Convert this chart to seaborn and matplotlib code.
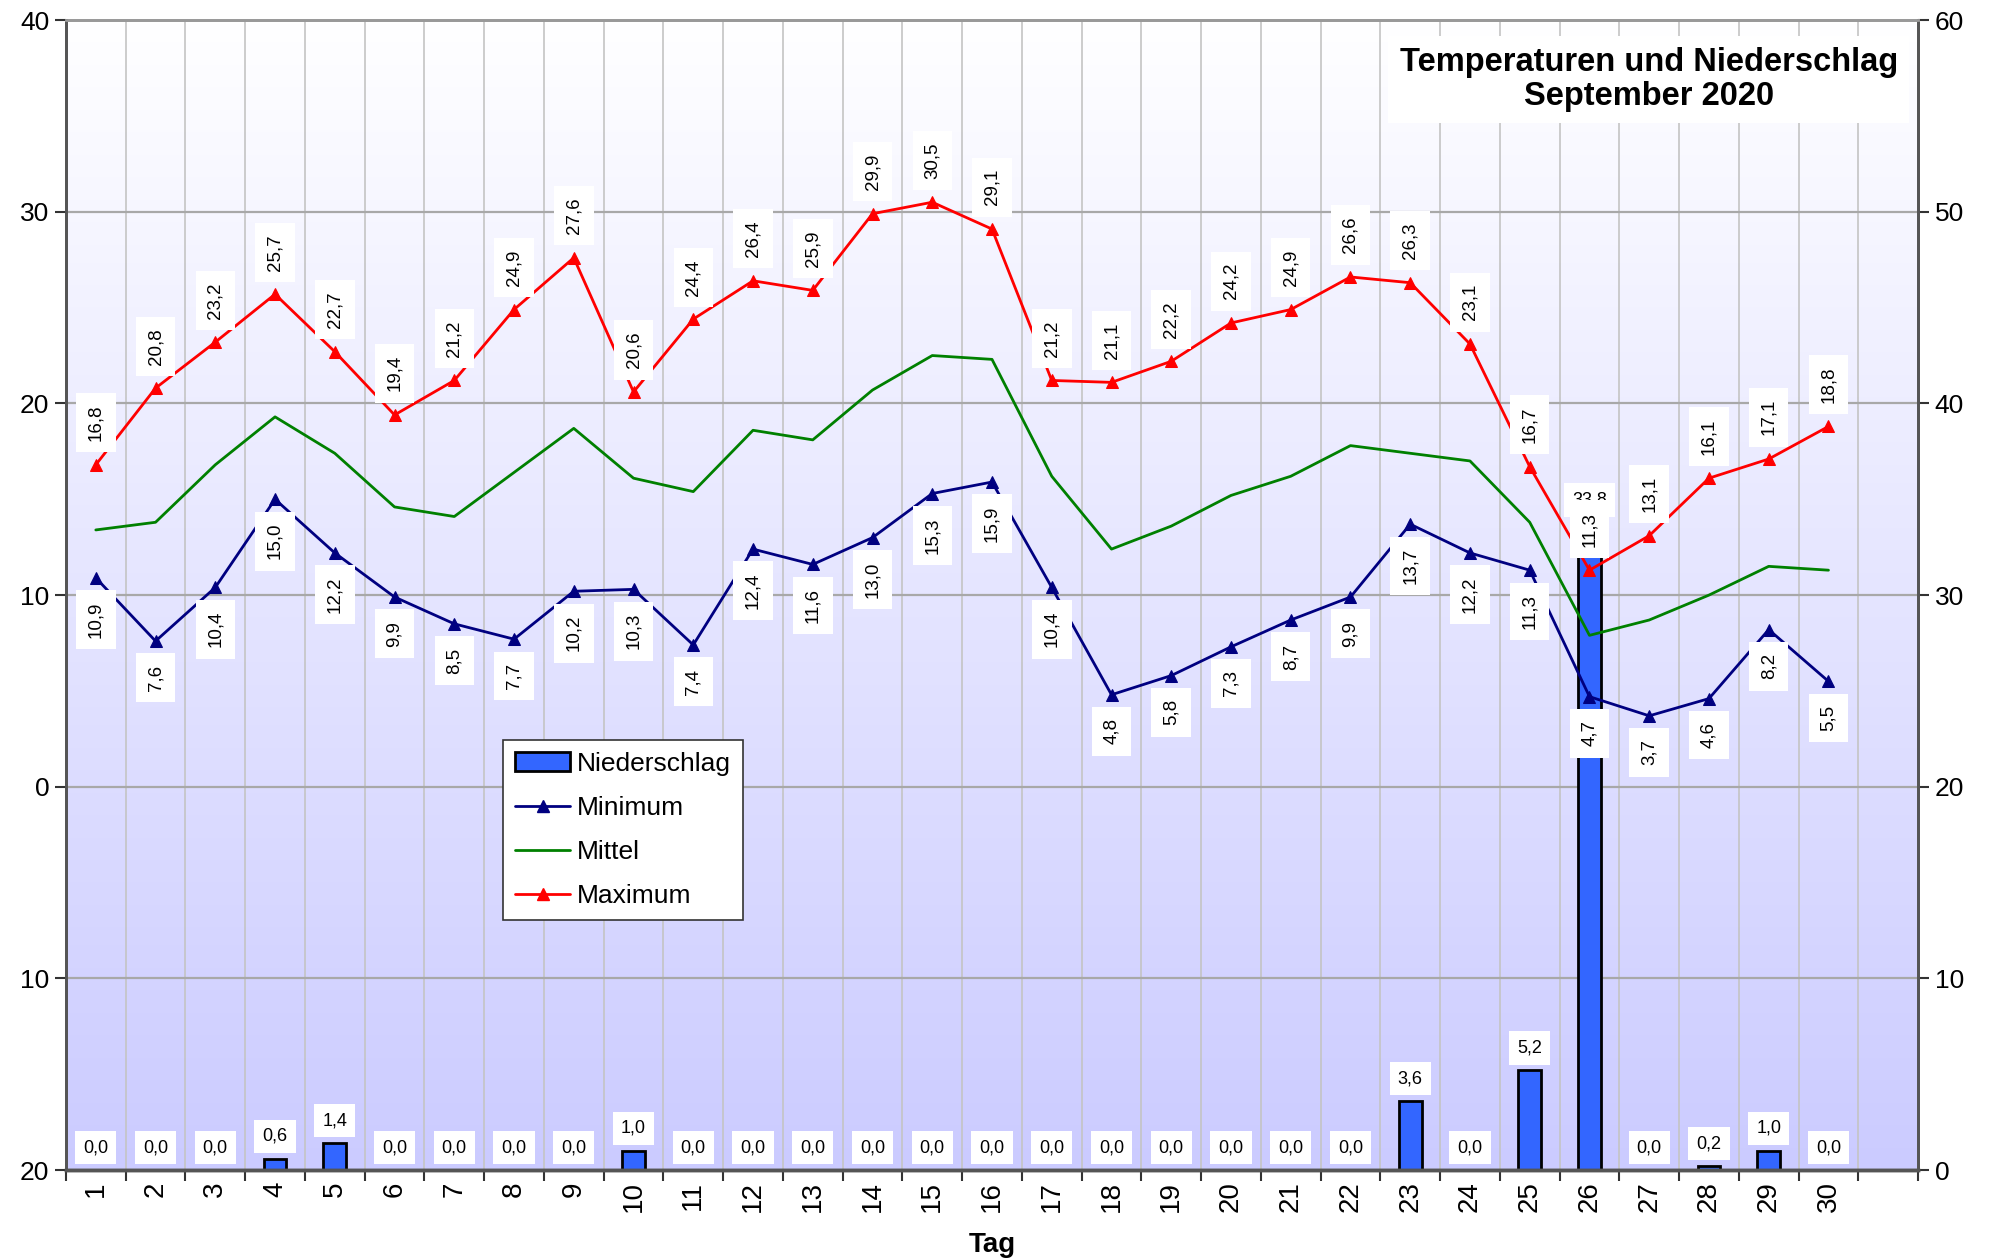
import numpy as np
import pandas as pd
import matplotlib
matplotlib.use('Agg')  # no display
import matplotlib.pyplot as plt
import seaborn as sns
from matplotlib.ticker import FuncFormatter, MultipleLocator, FixedLocator, NullFormatter
from matplotlib.colors import LinearSegmentedColormap
from matplotlib.patches import Patch
from matplotlib.lines import Line2D

# Daily values, September 2020
days = list(range(1, 31))
t_max = [16.8, 20.8, 23.2, 25.7, 22.7, 19.4, 21.2, 24.9, 27.6, 20.6,
         24.4, 26.4, 25.9, 29.9, 30.5, 29.1, 21.2, 21.1, 22.2, 24.2,
         24.9, 26.6, 26.3, 23.1, 16.7, 11.3, 13.1, 16.1, 17.1, 18.8]
t_mittel = [13.4, 13.8, 16.8, 19.3, 17.4, 14.6, 14.1, 16.4, 18.7, 16.1,
            15.4, 18.6, 18.1, 20.7, 22.5, 22.3, 16.2, 12.4, 13.6, 15.2,
            16.2, 17.8, 17.4, 17.0, 13.8, 7.9, 8.7, 10.0, 11.5, 11.3]
t_min = [10.9, 7.6, 10.4, 15.0, 12.2, 9.9, 8.5, 7.7, 10.2, 10.3,
         7.4, 12.4, 11.6, 13.0, 15.3, 15.9, 10.4, 4.8, 5.8, 7.3,
         8.7, 9.9, 13.7, 12.2, 11.3, 4.7, 3.7, 4.6, 8.2, 5.5]
niederschlag = [0.0, 0.0, 0.0, 0.6, 1.4, 0.0, 0.0, 0.0, 0.0, 1.0,
                0.0, 0.0, 0.0, 0.0, 0.0, 0.0, 0.0, 0.0, 0.0, 0.0,
                0.0, 0.0, 3.6, 0.0, 5.2, 33.8, 0.0, 0.2, 1.0, 0.0]

df = pd.DataFrame({'Tag': days, 'Maximum': t_max, 'Mittel': t_mittel,
                   'Minimum': t_min, 'Niederschlag': niederschlag})

col_max = '#ff0000'
col_min = '#000080'
col_mit = '#008000'
col_bar = '#3366ff'

sns.set_theme(style='white')
plt.rcParams['font.family'] = ['Liberation Sans', 'DejaVu Sans']
for k in ('text.color', 'axes.labelcolor', 'xtick.color', 'ytick.color'):
    plt.rcParams[k] = 'black'

fig = plt.figure(figsize=(19.98, 12.6), dpi=100)
ax_n = fig.add_axes([0.033, 0.0714, 0.927, 0.9126])  # precipitation (right scale)
ax_t = ax_n.twinx()                                  # temperatures (left scale)

# background gradient white -> lavender
grad = np.linspace(0, 1, 256).reshape(-1, 1)
bg_cmap = LinearSegmentedColormap.from_list('bg', ['#ffffff', '#cbcbff'])
ax_n.imshow(grad, cmap=bg_cmap, aspect='auto', extent=[0, 1, 0, 1],
            transform=ax_n.transAxes, origin='upper', zorder=0)

# precipitation bars
sns.barplot(data=df, x='Tag', y='Niederschlag', native_scale=True, width=0.38,
            color=col_bar, saturation=1, edgecolor='black', linewidth=2,
            errorbar=None, ax=ax_n, zorder=2)

# temperature lines
sns.lineplot(data=df, x='Tag', y='Mittel', color=col_mit, lw=2, ax=ax_t)
sns.lineplot(data=df, x='Tag', y='Minimum', color=col_min, lw=2, marker='^',
             markersize=8, markeredgecolor=col_min, ax=ax_t)
sns.lineplot(data=df, x='Tag', y='Maximum', color=col_max, lw=2, marker='^',
             markersize=8, markeredgecolor=col_max, ax=ax_t)

# axes limits / ticks
ax_n.set_xlim(0.5, 31.5)
ax_n.set_ylim(0, 60)
ax_t.set_ylim(-20, 40)

ax_n.xaxis.set_major_locator(FixedLocator(np.arange(0.5, 32, 1)))
ax_n.xaxis.set_major_formatter(NullFormatter())
ax_n.xaxis.set_minor_locator(FixedLocator(days))
ax_n.set_xticklabels([str(d) for d in days], minor=True, rotation=90, fontsize=20)
ax_n.tick_params(axis='x', which='major', bottom=True, length=8, width=1.5, color='#333333')
ax_n.tick_params(axis='x', which='minor', bottom=True, length=0, pad=8)

ax_n.yaxis.tick_right()
ax_n.yaxis.set_label_position('right')
ax_n.yaxis.set_major_locator(MultipleLocator(10))
ax_n.tick_params(axis='y', right=True, left=False, length=8, width=1.5,
                 color='#333333', labelsize=19, pad=4)

ax_t.yaxis.tick_left()
ax_t.yaxis.set_major_locator(MultipleLocator(10))
ax_t.yaxis.set_major_formatter(FuncFormatter(lambda v, p: f'{abs(v):.0f}'))
ax_t.tick_params(axis='y', left=True, right=False, length=8, width=1.5,
                 color='#333333', labelsize=19, pad=4)

# grid
ax_n.set_axisbelow(True)
ax_n.grid(True, axis='x', which='major', color='#c4c4c4', lw=1.2)
ax_n.grid(True, axis='y', which='major', color='#a8a8a8', lw=1.6)
ax_t.grid(False)

for a in (ax_n, ax_t):
    a.spines['left'].set_color('#555555')
    a.spines['left'].set_linewidth(2)
    a.spines['right'].set_color('#555555')
    a.spines['right'].set_linewidth(2)
    a.spines['bottom'].set_color('#555555')
    a.spines['bottom'].set_linewidth(2.5)
    a.spines['top'].set_color('#999999')
    a.spines['top'].set_linewidth(2)

ax_n.set_ylabel('')
ax_t.set_ylabel('')
ax_t.set_xlabel('')
ax_n.set_xlabel('Tag', fontsize=20, fontweight='bold', labelpad=14)


def fmt(v):
    return f'{v:.1f}'.replace('.', ',')


narrow = ['Liberation Sans Narrow', 'Liberation Sans', 'DejaVu Sans']

# value labels for precipitation
for d, p in zip(days, niederschlag):
    ax_n.annotate(fmt(p), (d, p), xytext=(0, 10), textcoords='offset points',
                  ha='center', va='bottom', fontsize=13,
                  bbox=dict(boxstyle='square,pad=0.45', fc='white', ec='none'), zorder=4)

# value labels for temperatures
tbox = dict(boxstyle='square,pad=0.6', fc='white', ec='none')
for d, v in zip(days, t_max):
    ax_t.annotate(fmt(v), (d, v), xytext=(0, 17), textcoords='offset points',
                  rotation=90, ha='center', va='bottom', fontsize=13.5,
                  family=narrow, bbox=tbox, zorder=5)
for d, v in zip(days, t_min):
    ax_t.annotate(fmt(v), (d, v), xytext=(0, -17), textcoords='offset points',
                  rotation=90, ha='center', va='top', fontsize=13.5,
                  family=narrow, bbox=tbox, zorder=5)

# legend
handles = [
    Patch(facecolor=col_bar, edgecolor='black', linewidth=2),
    Line2D([], [], color=col_min, lw=2, marker='^', markersize=8),
    Line2D([], [], color=col_mit, lw=2),
    Line2D([], [], color=col_max, lw=2, marker='^', markersize=8),
]
leg = ax_t.legend(handles, ['Niederschlag', 'Minimum', 'Mittel', 'Maximum'],
                  loc='upper left', bbox_to_anchor=(0.236, 0.374), borderaxespad=0,
                  fontsize=19, frameon=True, fancybox=False, framealpha=1,
                  edgecolor='#333333', handlelength=2.1, handletextpad=0.25,
                  labelspacing=0.76, borderpad=0.45)
leg.get_frame().set_linewidth(1.2)
leg.set_zorder(10)

# title box
fig.text(0.8253, 0.9369, 'Temperaturen und Niederschlag\nSeptember 2020',
         ha='center', va='center', fontsize=23.5, fontweight='bold',
         linespacing=1.1,
         bbox=dict(boxstyle='square,pad=0.35', fc='white', ec='none'), zorder=10)

plt.savefig('out.png', dpi=100)
plt.close('all')
